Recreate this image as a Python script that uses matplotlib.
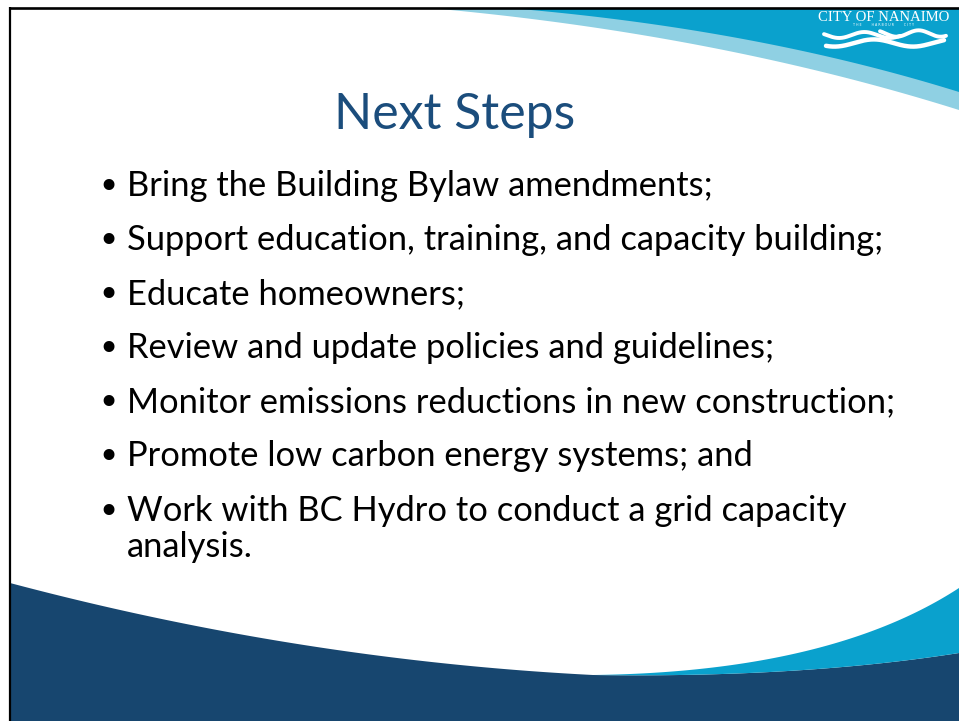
import numpy as np
import matplotlib
matplotlib.use("Agg")
import matplotlib.pyplot as plt

# ---- content ----
title = "Next Steps"
bullets = [
    "Bring the Building Bylaw amendments;",
    "Support education, training, and capacity building;",
    "Educate homeowners;",
    "Review and update policies and guidelines;",
    "Monitor emissions reductions in new construction;",
    "Promote low carbon energy systems; and",
    "Work with BC Hydro to conduct a grid capacity",
]
continuation = "analysis."
logo_name = "CITY OF NANAIMO"
logo_tag = "T H E          H A R B O U R          C I T Y"

# ---- colours ----
NAVY = "#17466f"
CYAN = "#0aa1cd"
LIGHT = "#8fd0e3"
TITLE_C = "#1b4d7c"

W, H = 959, 721
fig = plt.figure(figsize=(W / 100, H / 100), dpi=100)
ax = fig.add_axes([0, 0, 1, 1])
ax.set_xlim(0, W)
ax.set_ylim(H, 0)
ax.axis("off")


def qbez(p0, p1, p2, n=120):
    t = np.linspace(0, 1, n)[:, None]
    p0, p1, p2 = map(np.asarray, (p0, p1, p2))
    pts = (1 - t) ** 2 * p0 + 2 * (1 - t) * t * p1 + t ** 2 * p2
    return pts[:, 0], pts[:, 1]


# ---- top swoosh ----
lx, ly = qbez((959, 110), (720, 35), (440, 9))
ax.fill(np.r_[440, 959, lx], np.r_[9, 9, ly], color=LIGHT, lw=0, zorder=1)
dx, dy = qbez((959, 92), (760, 30), (520, 9))
ax.fill(np.r_[520, 959, dx], np.r_[9, 9, dy], color=CYAN, lw=0, zorder=2)

# ---- bottom waves ----
wx, wy = qbez((10, 583), (300, 660), (593, 675))
nx, ny = qbez((593, 675), (800, 678), (959, 653))
ax.fill(np.r_[wx, nx, 959, 10], np.r_[wy, ny, 721, 721], color=NAVY, lw=0, zorder=1)
cx, cy = qbez((593, 675), (830, 672), (959, 588))
ax.fill(np.r_[cx, nx[::-1]], np.r_[cy, ny[::-1]], color=CYAN, lw=0, zorder=2)

# ---- border ----
ax.plot([10, 959], [8, 8], color="black", lw=1.9, solid_capstyle="butt", zorder=5)
ax.plot([10, 10], [7, 721], color="black", lw=1.6, solid_capstyle="butt", zorder=5)

# ---- logo ----
logo_t = ax.text(883.5, 21, logo_name, color="white", family="Liberation Serif",
                 fontsize=10, ha="center", va="baseline", zorder=6)
ax.text(883.5, 25.5, logo_tag, color="white", family="DejaVu Sans",
        fontsize=2.3, ha="center", va="center", zorder=6)
# stylised waves of the logo
for (x0, x1, yc, amp, lw, ph) in [(824, 900, 35.0, 3.0, 2.8, -0.3),
                                  (880, 946, 33.5, 3.2, 2.8, -0.8),
                                  (826, 944, 43.0, 3.6, 3.2, 0.9)]:
    xs = np.linspace(x0, x1, 200)
    ys = yc + amp * np.sin((xs - x0) / (x1 - x0) * 2 * np.pi * 1.5 + ph)
    ax.plot(xs, ys, color="white", lw=lw, solid_capstyle="round", zorder=6)

# ---- title ----
title_t = ax.text(455, 128.5, title, color=TITLE_C, family="Lato", fontweight="normal",
                  fontsize=30, ha="center", va="baseline", zorder=6)

# ---- bullets ----
x_text = 126.7
base0 = 196.0
step = 54.1
btexts = []
for i, b in enumerate(bullets):
    y = base0 + i * step
    ax.text(108.7, y - 11.0, "\u2022", color="black", family="DejaVu Sans", fontsize=27,
            ha="center", va="center_baseline", zorder=6)
    btexts.append(ax.text(x_text, y, b, color="black", family="Lato",
                          fontsize=20, ha="left", va="baseline", zorder=6))
btexts.append(ax.text(x_text, 556.7, continuation, color="black", family="Lato",
                      fontsize=20, ha="left", va="baseline", zorder=6))

# ---- calibrate font sizes to measured widths ----
fig.canvas.draw()
r = fig.canvas.get_renderer()


def fit(t, target):
    w = t.get_window_extent(r).width
    return t.get_fontsize() * target / w


fs = fit(btexts[1], 758)
for t in btexts:
    t.set_fontsize(fs)
title_t.set_fontsize(fit(title_t, 240))
logo_t.set_fontsize(fit(logo_t, 131))

fig.savefig("out.png", dpi=100, facecolor="white")
